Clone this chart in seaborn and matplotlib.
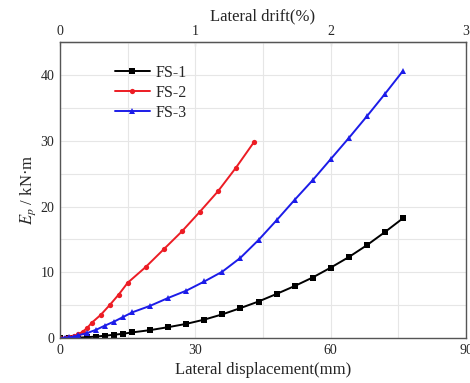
import numpy as np
import pandas as pd
import matplotlib
matplotlib.use("Agg")
import matplotlib.pyplot as plt
import seaborn as sns
from matplotlib.ticker import MultipleLocator

# dados
fs1_x = [0, 2, 4, 6, 8, 10, 12, 14, 16, 20, 24, 28, 32, 36, 40, 44, 48, 52, 56, 60, 64, 68, 72, 76]
fs1_y = [0, 0.02, 0.06, 0.12, 0.22, 0.35, 0.5, 0.65, 0.85, 1.2, 1.65, 2.15, 2.8, 3.6, 4.55,
         5.55, 6.7, 7.9, 9.2, 10.7, 12.3, 14.1, 16.1, 18.2]

fs2_x = [0, 1, 2, 3, 4, 5, 6, 7, 9, 11, 13, 15, 19, 23, 27, 31, 35, 39, 43]
fs2_y = [0, 0.05, 0.15, 0.3, 0.55, 0.95, 1.5, 2.3, 3.5, 5.0, 6.6, 8.4, 10.8, 13.5, 16.2,
         19.2, 22.3, 25.9, 29.8]

fs3_x = [0, 1, 2, 3, 4, 6, 8, 10, 12, 14, 16, 20, 24, 28, 32, 36, 40, 44, 48, 52, 56, 60,
         64, 68, 72, 76]
fs3_y = [0, 0.05, 0.1, 0.2, 0.4, 0.75, 1.25, 1.9, 2.5, 3.2, 3.9, 4.9, 6.1, 7.2, 8.6, 10.1,
         12.2, 14.9, 17.9, 21.0, 24.0, 27.2, 30.4, 33.7, 37.1, 40.6]

series = [
    ("FS-1", fs1_x, fs1_y, "black", "s"),
    ("FS-2", fs2_x, fs2_y, "#ec1c24", "o"),
    ("FS-3", fs3_x, fs3_y, "#1c1ce8", "^"),
]

sns.set_style("white")
plt.rcParams['font.family'] = ['Liberation Serif', 'DejaVu Serif']
plt.rcParams['mathtext.fontset'] = 'stix'

fig = plt.figure(figsize=(4.7, 3.83), dpi=100)
ax = fig.add_axes([0.1277, 0.1175, 0.8638, 0.7725])

for nome, xs, ys, cor, mk in series:
    df = pd.DataFrame({"x": xs, "y": ys})
    sns.lineplot(data=df, x="x", y="y", ax=ax, color=cor, marker=mk, markersize=3.8,
                 markeredgewidth=0, linewidth=1.4, label=nome)

ax.set_xlim(0, 90)
ax.set_ylim(0, 45)
ax.xaxis.set_major_locator(MultipleLocator(30))
ax.xaxis.set_minor_locator(MultipleLocator(15))
ax.yaxis.set_major_locator(MultipleLocator(10))
ax.yaxis.set_minor_locator(MultipleLocator(5))
ax.grid(True, which='both', color='#e6e6e6', linewidth=0.8)
ax.set_axisbelow(True)
ax.tick_params(which='major', direction='in', length=3, width=0.8, color='#555555',
               labelsize=10, pad=4)
ax.tick_params(which='minor', length=0)
for s in ax.spines.values():
    s.set_color('#555555')
    s.set_linewidth(1.0)

ax.set_xlabel("Lateral displacement(mm)", fontsize=12, labelpad=4)
ax.set_ylabel(r"$E_p$ / kN·m", fontsize=12, labelpad=2)

top = ax.secondary_xaxis('top', functions=(lambda v: v / 30, lambda v: v * 30))
top.xaxis.set_major_locator(MultipleLocator(1))
top.tick_params(direction='in', length=3, width=0.8, color='#555555', labelsize=10, pad=3)
top.set_xlabel("Lateral drift(%)", fontsize=12, labelpad=3)

ax.legend(loc='upper left', bbox_to_anchor=(0.115, 0.95), frameon=False, fontsize=11.5,
          handlelength=2.2, handletextpad=0.35, labelspacing=0.25, borderpad=0)

fig.savefig("out.png", dpi=100, facecolor='white')
plt.close(fig)
